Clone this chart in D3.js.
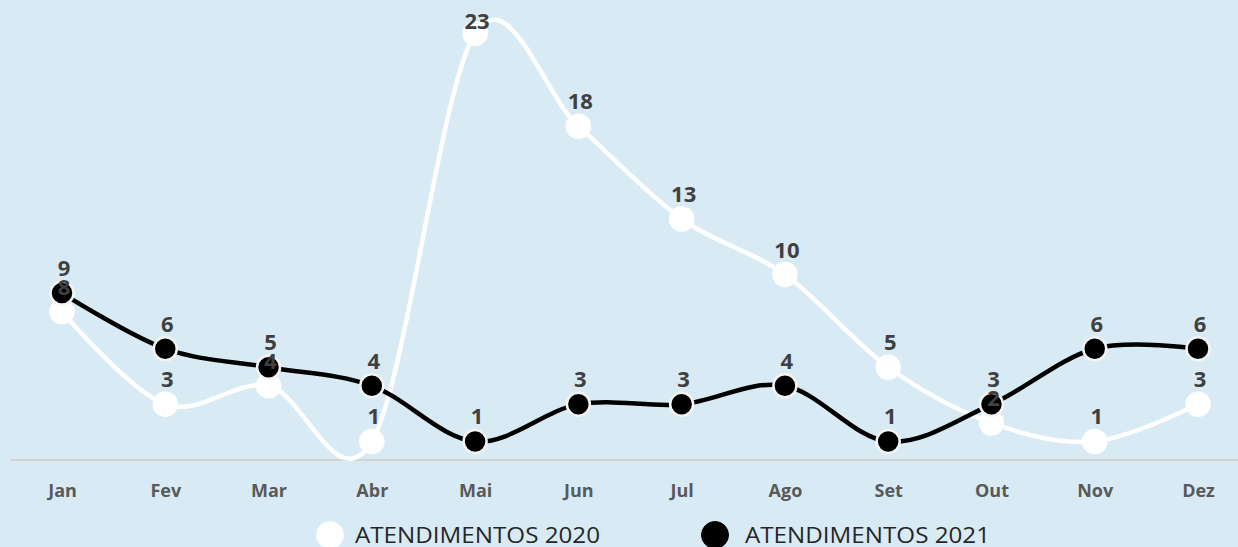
<!DOCTYPE html>
<html>
<head>
<meta charset="utf-8">
<script src="https://cdn.jsdelivr.net/npm/d3@7"></script>
<style>
  html, body { margin: 0; padding: 0; background: #d8ebf5; }
  svg { display: block; }
</style>
</head>
<body>
<svg id="chart" width="1238" height="547"></svg>
<script>
const months = ["Jan","Fev","Mar","Abr","Mai","Jun","Jul","Ago","Set","Out","Nov","Dez"];
const values2020 = [8, 3, 4, 1, 23, 18, 13, 10, 5, 2, 1, 3];
const values2021 = [9, 6, 5, 4, 1, 3, 3, 4, 1, 3, 6, 6];
const seriesNames = ["ATENDIMENTOS 2020", "ATENDIMENTOS 2021"];

const W = 1238, H = 547;
const svg = d3.select("#chart");
svg.append("rect").attr("width", W).attr("height", H).attr("fill", "#d8ebf5");

const x = d3.scalePoint().domain(months).range([62, 1198]);
const y = d3.scaleLinear().domain([0, 23]).range([460, 33.4]);

// baseline
svg.append("line")
  .attr("x1", 10).attr("x2", W).attr("y1", y(0)).attr("y2", y(0))
  .attr("stroke", "#d3d3d3").attr("stroke-width", 2);

// x axis labels
const xAxis = d3.axisBottom(x).tickSize(0).tickPadding(0);
const ax = svg.append("g").attr("transform", `translate(0, 497)`).call(xAxis);
ax.select(".domain").remove();
ax.selectAll("text")
  .attr("dy", 0)
  .attr("y", 0)
  .attr("font-family", "'Open Sans', sans-serif")
  .attr("font-weight", "bold")
  .attr("font-size", 18)
  .attr("fill", "#595959");

const series = [
  { name: seriesNames[0], values: values2020, line: "#ffffff", fill: "#ffffff", stroke: "#ffffff" },
  { name: seriesNames[1], values: values2021, line: "#000000", fill: "#000000", stroke: "#f4f4f4" }
];

const lineGen = d3.line()
  .x((d, i) => x(months[i]))
  .y(d => y(d))
  .curve(d3.curveCardinal.tension(0));

series.forEach(s => {
  svg.append("path")
    .datum(s.values)
    .attr("d", lineGen)
    .attr("fill", "none")
    .attr("stroke", s.line)
    .attr("stroke-width", 4.5)
    .attr("stroke-linejoin", "round");
});

series.forEach(s => {
  svg.append("g").selectAll("circle")
    .data(s.values)
    .join("circle")
    .attr("cx", (d, i) => x(months[i]))
    .attr("cy", d => y(d))
    .attr("r", 11.5)
    .attr("fill", s.fill)
    .attr("stroke", s.stroke)
    .attr("stroke-width", 2.5);
});

series.forEach(s => {
  svg.append("g").selectAll("text")
    .data(s.values)
    .join("text")
    .attr("x", (d, i) => x(months[i]) + 2)
    .attr("y", d => Math.max(y(d) - 17, 29))
    .attr("text-anchor", "middle")
    .attr("font-family", "'Open Sans', sans-serif")
    .attr("font-weight", "bold")
    .attr("font-size", 22)
    .attr("fill", "#404040")
    .text(d => d);
});

// legend
const legendItems = [
  { name: seriesNames[0], cx: 330, fill: "#ffffff", stroke: "#ffffff", tx: 355 },
  { name: seriesNames[1], cx: 715, fill: "#000000", stroke: "#000000", tx: 745 }
];
const lg = svg.append("g");
legendItems.forEach(l => {
  lg.append("circle")
    .attr("cx", l.cx).attr("cy", 535).attr("r", 13.5)
    .attr("fill", l.fill).attr("stroke", l.stroke);
  lg.append("text")
    .attr("x", l.tx).attr("y", 543)
    .attr("font-family", "'Open Sans', sans-serif")
    .attr("font-size", 22)
    .attr("fill", "#262626")
    .attr("textLength", 245)
    .attr("lengthAdjust", "spacingAndGlyphs")
    .text(l.name);
});
</script>
</body>
</html>
